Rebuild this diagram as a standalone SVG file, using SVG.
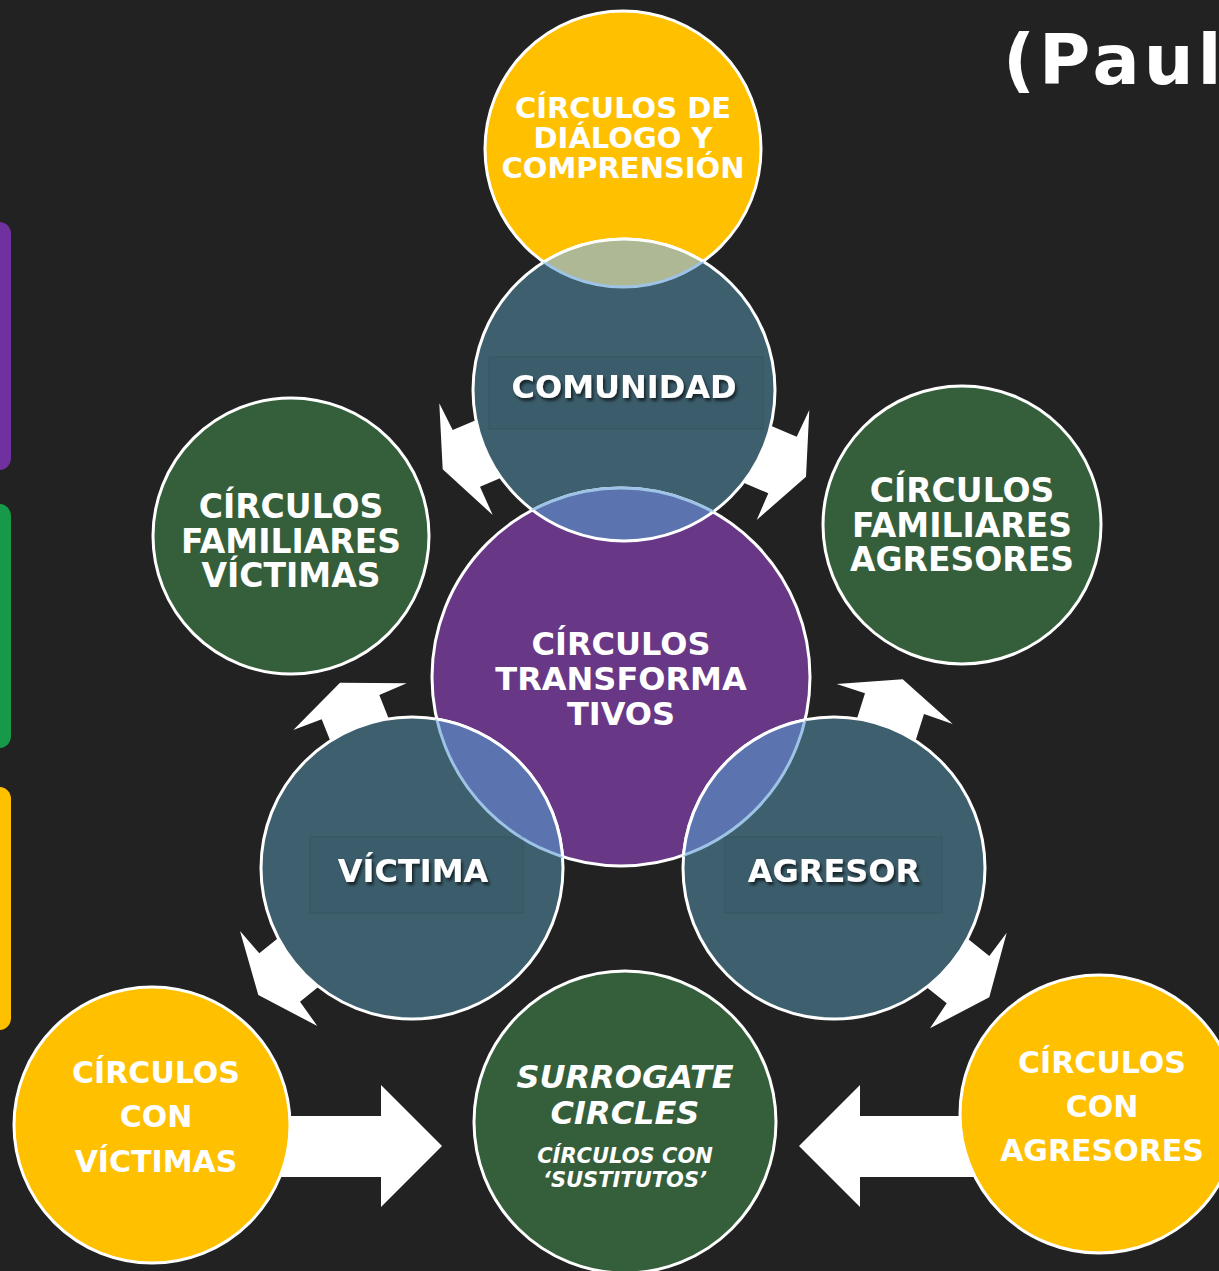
<svg xmlns="http://www.w3.org/2000/svg" width="1219" height="1271" viewBox="0 0 1219 1271">
<defs>
<style>
.bg{fill:#222222}
.arrow{fill:#ffffff}
.ring{stroke:#ffffff;stroke-width:3}
.yel{fill:#FFC000}
.grn{fill:#355E3B}
.teal{fill:#3D5F6E}
.pur{fill:#683887}
.lb{fill:none;stroke:#9DC3E6;stroke-width:3}
.wh{fill:none;stroke:#ffffff;stroke-width:3}
.t{font-family:"DejaVu Sans","Liberation Sans",sans-serif;font-weight:bold;fill:#ffffff;text-anchor:middle}
.it{font-style:italic}
.faint{fill:rgba(0,0,0,0.02);stroke:rgba(0,0,0,0.1);stroke-width:1}
</style>
<filter id="sh" x="-20%" y="-40%" width="140%" height="180%">
<feDropShadow dx="2" dy="3" stdDeviation="1.5" flood-color="#000000" flood-opacity="0.6"/>
</filter>
<clipPath id="cTop"><circle cx="623" cy="149" r="138"/></clipPath>
<clipPath id="cCom"><circle cx="624" cy="390" r="151"/></clipPath>
<clipPath id="cPur"><circle cx="621" cy="677" r="189"/></clipPath>
<clipPath id="cVic"><circle cx="412" cy="868" r="151"/></clipPath>
<clipPath id="cAgr"><circle cx="834" cy="868" r="151"/></clipPath>
</defs>
<rect class="bg" x="0" y="0" width="1219" height="1271"/>

<g id="side-bars">
<rect x="-12" y="222" width="23" height="248" rx="12" fill="#7030A0"/>
<rect x="-12" y="504" width="23" height="244" rx="12" fill="#17994A"/>
<rect x="-12" y="787" width="23" height="243" rx="12" fill="#FFC000"/>
</g>

<text id="title" class="t" x="1003" y="84" font-size="70" letter-spacing="4" style="text-anchor:start">(Paul</text>

<g id="connectors">
<polygon class="arrow" points="442.7,469.3 439.3,403.3 452.7,430 526,399 553,456 480,486.7 492.7,515"/>
<polygon class="arrow" points="806,476.7 809.3,410 796.7,436.7 723.7,405.7 695,462 768.3,493.3 756.7,520"/>
<polygon class="arrow" points="340,682.7 293.3,730 321.7,719.3 351.3,793.7 408.9,769.4 379.3,695 406.7,683.3"/>
<polygon class="arrow" points="902.7,679.3 836.7,684 865,693.3 841,769.3 900,790 924,714 952.7,724"/>
<polygon class="arrow" points="258.3,995 240,931 259.3,953.3 313.9,909.2 354.6,957.6 300,1001.7 317.3,1026"/>
<polygon class="arrow" points="989.3,997.3 1006.7,932.7 989.3,956 934.3,912 891.7,959.3 946.7,1003.3 930,1028.3"/>
<polygon class="arrow" points="250,1116 381,1116 381,1085 442,1146 381,1207 381,1177 250,1177"/>
<polygon class="arrow" points="1000,1116 860,1116 860,1085 799,1146 860,1207 860,1177 1000,1177"/>
</g>

<g id="node-familiares-victimas">
<circle class="grn ring" cx="291" cy="536" r="138"/>
<text class="t" font-size="33"><tspan x="291" y="518">CÍRCULOS</tspan><tspan x="291" y="553">FAMILIARES</tspan><tspan x="291" y="587">VÍCTIMAS</tspan></text>
</g>
<g id="node-familiares-agresores">
<circle class="grn ring" cx="962" cy="525" r="139"/>
<text class="t" font-size="33"><tspan x="962" y="502">CÍRCULOS</tspan><tspan x="962" y="537">FAMILIARES</tspan><tspan x="962" y="571">AGRESORES</tspan></text>
</g>
<g id="node-con-victimas">
<circle class="yel ring" cx="152" cy="1125" r="138"/>
<text class="t" font-size="30"><tspan x="156" y="1083">CÍRCULOS</tspan><tspan x="156" y="1127">CON</tspan><tspan x="156" y="1172">VÍCTIMAS</tspan></text>
</g>
<g id="node-con-agresores">
<circle class="yel ring" cx="1099" cy="1114" r="139"/>
<text class="t" font-size="30"><tspan x="1102" y="1073">CÍRCULOS</tspan><tspan x="1102" y="1117">CON</tspan><tspan x="1102" y="1161">AGRESORES</tspan></text>
</g>
<g id="node-surrogate">
<circle class="grn ring" cx="625" cy="1122" r="151"/>
<text class="t it" font-size="32"><tspan x="625" y="1088">SURROGATE</tspan><tspan x="625" y="1124">CIRCLES</tspan></text>
<text class="t it" font-size="21"><tspan x="625" y="1163">CÍRCULOS CON</tspan><tspan x="625" y="1187">‘SUSTITUTOS’</tspan></text>
</g>

<g id="node-dialogo">
<circle class="yel ring" cx="623" cy="149" r="138"/>
</g>
<g id="node-comunidad">
<circle class="teal ring" cx="624" cy="390" r="151"/>
</g>
<g id="node-transformativos">
<circle class="pur ring" cx="621" cy="677" r="189"/>
</g>
<g id="node-victima">
<circle class="teal ring" cx="412" cy="868" r="151"/>
</g>
<g id="node-agresor">
<circle class="teal ring" cx="834" cy="868" r="151"/>
</g>

<g id="overlaps">
<g clip-path="url(#cCom)"><circle cx="623" cy="149" r="138" fill="#AFB894"/><circle class="lb" cx="623" cy="149" r="138"/></g>
<g clip-path="url(#cTop)"><circle class="wh" cx="624" cy="390" r="151"/></g>

<g clip-path="url(#cCom)"><circle cx="621" cy="677" r="189" fill="#5B73AE"/><circle class="lb" cx="621" cy="677" r="189"/></g>
<g clip-path="url(#cPur)"><circle class="wh" cx="624" cy="390" r="151"/></g>

<g clip-path="url(#cVic)"><circle cx="621" cy="677" r="189" fill="#5B73AE"/><circle class="lb" cx="621" cy="677" r="189"/></g>
<g clip-path="url(#cPur)"><circle class="wh" cx="412" cy="868" r="151"/></g>

<g clip-path="url(#cAgr)"><circle cx="621" cy="677" r="189" fill="#5B73AE"/><circle class="lb" cx="621" cy="677" r="189"/></g>
<g clip-path="url(#cPur)"><circle class="wh" cx="834" cy="868" r="151"/></g>
</g>

<g id="labels">
<text class="t" font-size="29"><tspan x="623" y="118">CÍRCULOS DE</tspan><tspan x="623" y="148">DIÁLOGO Y</tspan><tspan x="623" y="178">COMPRENSIÓN</tspan></text>
<rect class="faint" x="489" y="357" width="274" height="72"/>
<text class="t" font-size="32" x="624" y="398" filter="url(#sh)">COMUNIDAD</text>
<text class="t" font-size="32"><tspan x="621" y="655">CÍRCULOS</tspan><tspan x="621" y="690">TRANSFORMA</tspan><tspan x="621" y="725">TIVOS</tspan></text>
<rect class="faint" x="310" y="837" width="213" height="76"/>
<text class="t" font-size="32" x="413" y="882" filter="url(#sh)">VÍCTIMA</text>
<rect class="faint" x="725" y="837" width="217" height="76"/>
<text class="t" font-size="32" x="834" y="882" filter="url(#sh)">AGRESOR</text>
</g>
</svg>
